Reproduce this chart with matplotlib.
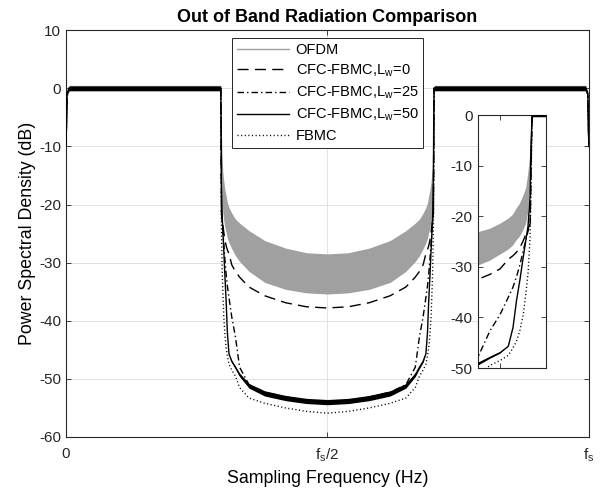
import matplotlib.pyplot as plt
from matplotlib.lines import Line2D
import numpy as np

plt.rcParams['font.family'] = ['Liberation Sans', 'DejaVu Sans']
plt.rcParams['mathtext.default'] = 'regular'
plt.rcParams['axes.unicode_minus'] = False

# normalised frequency (0 .. fs), left half then right half
freq_left = [0.0, 0.002, 0.006, 0.1, 0.2, 0.29, 0.2954, 0.2960, 0.2967, 0.2973,
             0.2987, 0.3000, 0.3018, 0.3040, 0.3063, 0.3086, 0.3117, 0.3171,
             0.3239, 0.332, 0.35, 0.38, 0.42, 0.46]
freq_right = [0.50, 0.54, 0.58, 0.62, 0.65, 0.668, 0.6761, 0.6829, 0.6883,
              0.6914, 0.6937, 0.6960, 0.6982, 0.7000, 0.7013, 0.7027, 0.7033,
              0.7040, 0.7046, 0.71, 0.80, 0.90, 0.994, 0.998, 1.0]

# OFDM: ripple band (upper / lower envelope), dB
ofdm_hi_left = [-9.5, -0.5, 0.5, 0.5, 0.5, 0.5, 0.5, 0.5, -5.0, -8.0, -12.0, -14.5,
                -16.0, -17.5, -18.5, -19.7, -20.5, -21.5, -22.5, -23.2, -24.5,
                -26.2, -27.5, -28.3]
ofdm_hi_right = [-28.5, -28.3, -27.5, -26.2, -24.5, -23.2, -22.5, -21.5, -20.5,
                 -19.7, -18.5, -17.5, -16.0, -14.5, -12.0, -8.0, -5.0, 0.5, 0.5,
                 0.5, 0.5, 0.5, 0.5, -0.5, -9.5]
ofdm_lo_left = [-10.5, -1.5, -0.5, -0.5, -0.5, -0.5, -0.5, -0.5, -10.0, -14.0,
                -19.5, -21.5, -22.8, -24.0, -24.8, -25.8, -26.6, -27.6, -28.8,
                -29.8, -31.5, -33.4, -34.6, -35.2]
ofdm_lo_right = [-35.4, -35.2, -34.6, -33.4, -31.5, -29.8, -28.8, -27.6, -26.6,
                 -25.8, -24.8, -24.0, -22.8, -21.5, -19.5, -14.0, -10.0, -0.5,
                 -0.5, -0.5, -0.5, -0.5, -0.5, -1.5, -10.5]

# CFC-FBMC, Lw = 0
lw0_left = [-10, -1, 0, 0, 0, 0, 0, 0, -10.0, -21.5, -22.5, -23.5, -24.8, -26.2,
            -27.1, -27.8, -28.5, -30.4, -31.5, -32.5, -34.2, -35.7, -36.9, -37.6]
lw0_right = [-37.8, -37.6, -36.9, -35.7, -34.2, -32.5, -31.5, -30.4, -28.5, -27.8,
             -27.1, -26.2, -24.8, -23.5, -22.5, -21.5, -10.0, 0, 0, 0, 0, 0, 0,
             -1, -10]

# CFC-FBMC, Lw = 25
lw25_left = [-10, -1, 0, 0, 0, 0, 0, 0, -10.0, -21.4, -23.0, -24.5, -26.8, -29.5,
             -32.0, -34.0, -36.0, -39.4, -42.7, -48.0, -51.0, -52.3, -53.1, -53.7]
lw25_right = [-53.9, -53.7, -53.1, -52.3, -51.0, -48.0, -42.7, -39.4, -36.0, -34.0,
              -32.0, -29.5, -26.8, -24.5, -23.0, -21.4, -10.0, 0, 0, 0, 0, 0, 0,
              -1, -10]

# CFC-FBMC, Lw = 50 and its ripple half-width
lw50_left = [-10, -1, 0, 0, 0, 0, 0, 0, -6.0, -16.0, -22.0, -24.5, -28.0, -32.5,
             -36.7, -42.0, -45.7, -47.0, -48.0, -49.3, -51.2, -52.5, -53.3, -53.8]
lw50_right = [-54.0, -53.8, -53.3, -52.5, -51.2, -49.3, -48.0, -47.0, -45.7, -42.0,
              -36.7, -32.5, -28.0, -24.5, -22.0, -16.0, -6.0, 0, 0, 0, 0, 0, 0,
              -1, -10]
lw50_rip_left = [0, 0, 0.4, 0.4, 0.4, 0.4, 0.4, 0, 0, 0, 0, 0, 0, 0, 0, 0, 0,
                 0.15, 0.2, 0.3, 0.4, 0.45, 0.45, 0.45]
lw50_rip_right = [0.45, 0.45, 0.45, 0.45, 0.4, 0.3, 0.2, 0.15, 0, 0, 0, 0, 0, 0,
                  0, 0, 0, 0, 0.4, 0.4, 0.4, 0.4, 0.4, 0, 0]

# FBMC
fbmc_left = [-10, -1, 0, 0, 0, 0, 0, 0, -15.0, -24.0, -31.4, -35.0, -39.4, -42.5,
             -44.7, -46.0, -47.5, -48.5, -49.5, -51.5, -53.3, -54.2, -55.0, -55.6]
fbmc_right = [-55.9, -55.6, -55.0, -54.2, -53.3, -51.5, -49.5, -48.5, -47.5, -46.0,
              -44.7, -42.5, -39.4, -35.0, -31.4, -24.0, -15.0, 0, 0, 0, 0, 0, 0,
              -1, -10]

labels = ['OFDM', 'CFC-FBMC,L$_w$=0', 'CFC-FBMC,L$_w$=25',
          'CFC-FBMC,L$_w$=50', 'FBMC']
xtick_vals = [0, 0.5, 1]
xtick_labels = ['0', '$f_s$/2', '$f_s$']

f = np.array(freq_left + freq_right)
ofdm_hi = np.array(ofdm_hi_left + ofdm_hi_right)
ofdm_lo = np.array(ofdm_lo_left + ofdm_lo_right)
lw0 = np.array(lw0_left + lw0_right)
lw25 = np.array(lw25_left + lw25_right)
lw50 = np.array(lw50_left + lw50_right)
lw50_rip = np.array(lw50_rip_left + lw50_rip_right)
fbmc = np.array(fbmc_left + fbmc_right)

gray = '#a0a0a0'
st_dash = (0, (8, 4.5))
st_dashdot = (0, (4.7, 2.2, 1, 2.2))
st_dot = (0, (0.8, 1.8))


def draw_curves(a):
    a.fill_between(f, ofdm_lo, ofdm_hi, color=gray, lw=0, zorder=2)
    a.plot(f, lw0, color='k', lw=1.0, ls=st_dash, zorder=3)
    a.plot(f, lw25, color='k', lw=1.0, ls=st_dashdot, zorder=3)
    a.fill_between(f, lw50 - lw50_rip, lw50 + lw50_rip, color='k', lw=0, zorder=3)
    a.plot(f, lw50, color='k', lw=1.0, zorder=4)
    a.plot(f, fbmc, color='k', lw=1.0, ls=st_dot, zorder=3)


def style_axes(a):
    for s in a.spines.values():
        s.set_color('#262626')
        s.set_linewidth(0.8)
    a.tick_params(direction='in', length=3.5, width=0.6, top=True, right=True,
                  labelsize=11, colors='#262626', labelcolor='#262626')


fig = plt.figure(figsize=(6.03, 4.98), dpi=100)

# main axes
ax = fig.add_axes([0.1095, 0.1225, 0.867, 0.817])
draw_curves(ax)
ax.set_xlim(0, 1)
ax.set_ylim(-60, 10)
ax.set_xticks(xtick_vals)
ax.set_xticklabels(xtick_labels)
ax.set_yticks(np.arange(-60, 11, 10))
ax.grid(True, color='#e2e2e2', lw=0.7)
ax.set_axisbelow(True)
style_axes(ax)
ax.tick_params(axis='x', pad=7)
ax.set_title('Out of Band Radiation Comparison', fontsize=13,
             fontweight='bold', pad=6)
ax.set_xlabel('Sampling Frequency (Hz)', fontsize=12.8, labelpad=4)
ax.set_ylabel('Power Spectral Density (dB)', fontsize=12.8, labelpad=2)

handles = [
    Line2D([], [], color=gray, lw=1.0),
    Line2D([], [], color='k', lw=1.0, ls=st_dash),
    Line2D([], [], color='k', lw=1.0, ls=st_dashdot),
    Line2D([], [], color='k', lw=1.0),
    Line2D([], [], color='k', lw=1.0, ls=st_dot),
]
leg = ax.legend(handles, labels, loc='upper center', bbox_to_anchor=(0.5, 0.98),
                fontsize=10.5, handlelength=3.6, handletextpad=0.45,
                labelspacing=0.4, borderpad=0.3, borderaxespad=0,
                fancybox=False, framealpha=1, edgecolor='#262626')
leg.get_frame().set_linewidth(0.7)
leg.set_zorder(10)

# inset: zoom on the right band edge
axin = fig.add_axes([0.792, 0.261, 0.113, 0.508])
draw_curves(axin)
axin.set_xlim(0.668, 0.713)
axin.set_ylim(-50, 0)
axin.set_xticks([0.6829])
axin.set_xticklabels([])
axin.set_yticks(np.arange(-50, 1, 10))
axin.set_facecolor('white')
style_axes(axin)

fig.savefig('out.png', dpi=100)
